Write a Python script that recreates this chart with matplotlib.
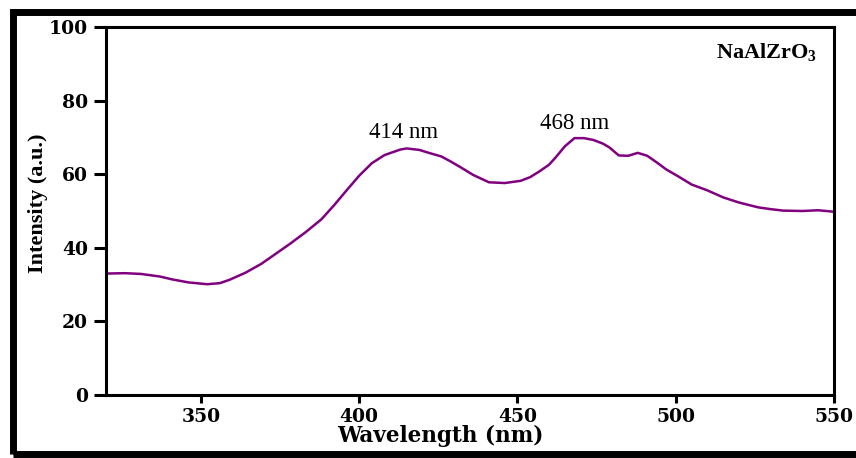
import matplotlib
matplotlib.use("Agg")
import matplotlib.pyplot as plt
from matplotlib.patches import Rectangle

plt.rcParams["mathtext.fontset"] = "custom"
plt.rcParams["mathtext.rm"] = "Liberation Serif"
plt.rcParams["mathtext.bf"] = "Liberation Serif:bold"

# Photoluminescence spectrum of NaAlZrO3
wavelength = [320, 326, 331, 337, 341, 346, 352, 356, 359, 364, 369, 373, 378,
              383, 388, 392, 396, 400, 404, 408, 413, 415, 419, 422, 426, 429,
              432, 436, 441, 446, 451, 454, 457, 460, 462, 465, 468, 471, 474,
              477, 479, 482, 485, 488, 491, 494, 497, 501, 505, 510, 515, 520,
              526, 530, 534, 540, 545, 550]
intensity = [33.0, 33.1, 32.9, 32.2, 31.4, 30.6, 30.1, 30.4, 31.3, 33.2, 35.6,
             38.0, 41.0, 44.2, 47.7, 51.5, 55.6, 59.6, 63.0, 65.2, 66.7, 67.0,
             66.6, 65.8, 64.8, 63.4, 61.9, 59.8, 57.8, 57.6, 58.2, 59.2, 60.8,
             62.6, 64.5, 67.6, 69.8, 69.8, 69.3, 68.3, 67.3, 65.1, 65.0, 65.8,
             65.0, 63.2, 61.3, 59.3, 57.2, 55.6, 53.7, 52.3, 51.0, 50.5, 50.1,
             50.0, 50.2, 49.8]

peaks = [414, 468]
peak_label_pos = [(414, 68.4), (468, 70.8)]

x_ticks = [350, 400, 450, 500, 550]
y_ticks = [0, 20, 40, 60, 80, 100]

fig = plt.figure(figsize=(8.56, 4.58), dpi=100)
ax = fig.add_axes([106 / 856, 1 - 395 / 458, 728 / 856, 368 / 458])

ax.plot(wavelength, intensity, color="#800080", lw=1.8)

ax.set_xlim(320, 550)
ax.set_ylim(0, 100)
ax.set_xticks(x_ticks)
ax.set_yticks(y_ticks)

tick_font = {"family": "DejaVu Serif", "weight": "bold", "size": 13.5}
ax.set_xticklabels([str(t) for t in x_ticks], fontdict=tick_font)
ax.set_yticklabels([str(t) for t in y_ticks], fontdict=tick_font)
ax.tick_params(axis="x", direction="out", length=6, width=2.2, pad=3)
ax.tick_params(axis="y", direction="out", length=9, width=2.2, pad=4)

for side in ["left", "bottom", "top", "right"]:
    ax.spines[side].set_linewidth(2.2)

ax.set_xlabel("Wavelength (nm)", family="DejaVu Serif", weight="bold",
              size=15.5)
ax.xaxis.set_label_coords(0.459, -0.082)
ax.set_ylabel("Intensity (a.u.)", family="Liberation Serif", weight="bold",
              size=16)
ax.yaxis.set_label_coords(-0.08, 0.52)

for p, (px, py) in zip(peaks, peak_label_pos):
    ax.text(px, py, f"{p} nm", family="Liberation Serif", size=16.5,
            ha="center", va="bottom")

ax.text(0.977, 0.96, r"NaAlZrO$_\mathbf{3}$", transform=ax.transAxes,
        family="Liberation Serif", weight="bold", size=16,
        ha="right", va="top")

# thick outer frame (right edge falls outside the image)
fig.patches.append(Rectangle((13 / 856, 1 - 454 / 458), 860 / 856, 442 / 458,
                             transform=fig.transFigure, fill=False,
                             lw=5, edgecolor="black"))

fig.savefig("out.png", dpi=100)
